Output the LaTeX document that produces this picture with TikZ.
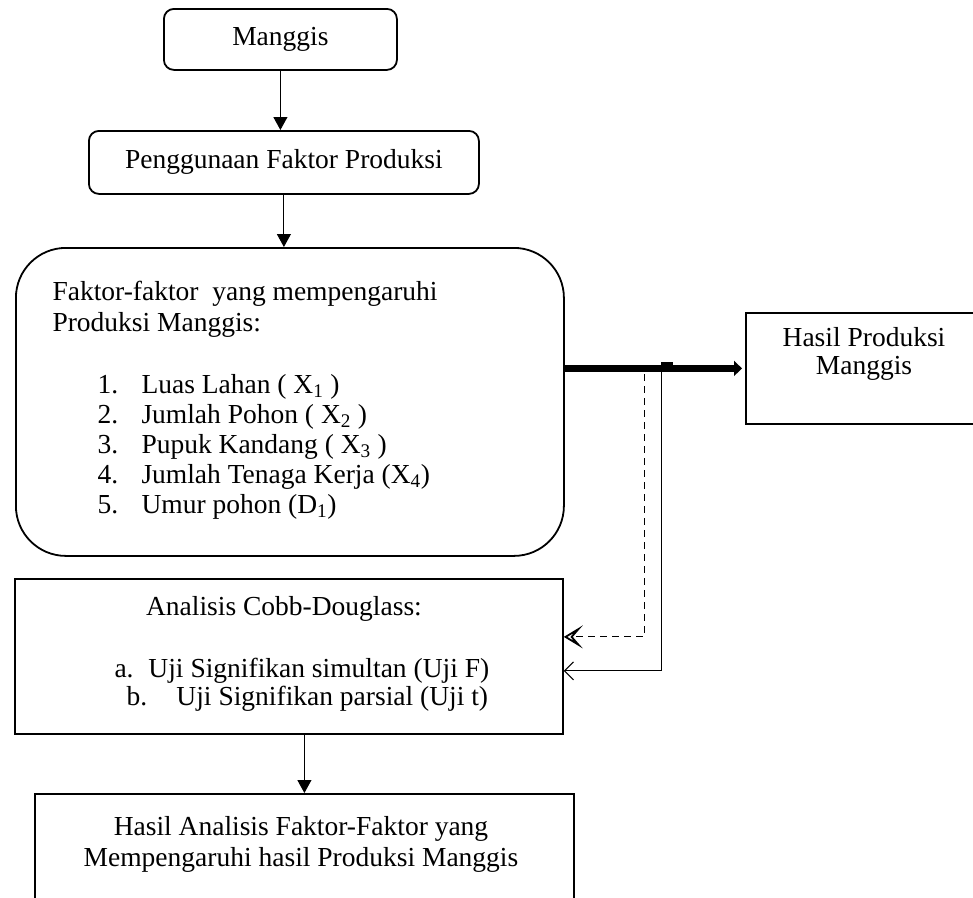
\documentclass[tikz,border=0pt]{standalone}
\usepackage{fontspec}
\setmainfont{Liberation Serif}
\usetikzlibrary{arrows.meta,calc}

\tikzset{
  box/.style={draw,line width=1.8pt,inner sep=0pt,anchor=north west},
  rbox/.style={box,rounded corners=10pt},
  lbl/.style={inner sep=0pt,anchor=base west},
  ctr/.style={inner sep=0pt,anchor=base}
}

\begin{document}
\fontsize{27.5}{29}\selectfont
\begin{tikzpicture}[x=1pt,y=-1pt,line width=1pt,>={Triangle[length=13pt,width=14pt]}]
\path[use as bounding box,clip] (0,0) rectangle (973,897);
% boxes
\node [rbox,minimum width=233pt,minimum height=61pt] (mang) at (163,8) {Manggis};
\node [rbox,minimum width=390pt,minimum height=63pt] (peng) at (88,130) {Penggunaan Faktor Produksi};
\node [box,rounded corners=50pt,minimum width=548pt,minimum height=308pt] (faktor) at (15,247) {};
\node [box,minimum width=238pt,minimum height=111pt] (hasil) at (745,312) {};
\node [box,minimum width=548pt,minimum height=155pt] (analisis) at (14,578) {};
\node [box,minimum width=539pt,minimum height=140pt] (akhir) at (34,793) {};
% texts
\node [lbl] (fk1) at (52,300) {Faktor-faktor\ \ yang mempengaruhi};
\node [lbl] (fk2) at (52,331) {Produksi Manggis:};
\node [lbl] (x1) at (97,393) {\makebox[44pt][l]{1.}Luas Lahan ( X\textsubscript{1} )};
\node [lbl] (x2) at (97,423) {\makebox[44pt][l]{2.}Jumlah Pohon ( X\textsubscript{2} )};
\node [lbl] (x3) at (97,453) {\makebox[44pt][l]{3.}Pupuk Kandang ( X\textsubscript{3} )};
\node [lbl] (x4) at (97,483) {\makebox[44pt][l]{4.}Jumlah Tenaga Kerja (X\textsubscript{4})};
\node [lbl] (d1) at (97,513) {\makebox[44pt][l]{5.}Umur pohon (D\textsubscript{1})};
\node [ctr] (hp1) at (864,346) {Hasil Produksi};
\node [ctr] (hp2) at (864,374) {Manggis};
\node [ctr] (cd) at (284,615) {Analisis Cobb-Douglass:};
\node [lbl] (ujiF) at (114,677) {\makebox[34pt][l]{a.}Uji Signifikan simultan (Uji F)};
\node [lbl] (ujit) at (126,705) {\makebox[50pt][l]{b.}Uji Signifikan parsial (Uji t)};
\node [ctr] (hs1) at (301,835) {Hasil Analisis Faktor-Faktor yang};
\node [ctr] (hs2) at (301,866) {Mempengaruhi hasil Produksi Manggis};
% arrows
\draw [->] (mang.south) -- (mang.south |- peng.north);
\draw [->] (peng.south) -- (peng.south |- faktor.north);
\draw [line width=7pt,-{Triangle[length=8pt,width=15pt]},shorten >=3pt] (hasil.west -| faktor.east) -- (hasil.west);
\fill (661,362) rectangle (673,366);
\coordinate (jS) at (661,368);
\coordinate (jD) at (644,374);
\draw [-{Straight Barb[length=9pt,width=18pt]}] (jS) |- ([yshift=-14.5pt]analisis.east);
\draw [dash pattern=on 7pt off 5pt,-{Stealth[open,length=19pt,width=23pt,inset=10pt,line width=1.8pt]}] (jD) |- ([yshift=19.5pt]analisis.east);
\draw [->] (akhir.north |- analisis.south) -- (akhir.north);
\end{tikzpicture}
\end{document}
